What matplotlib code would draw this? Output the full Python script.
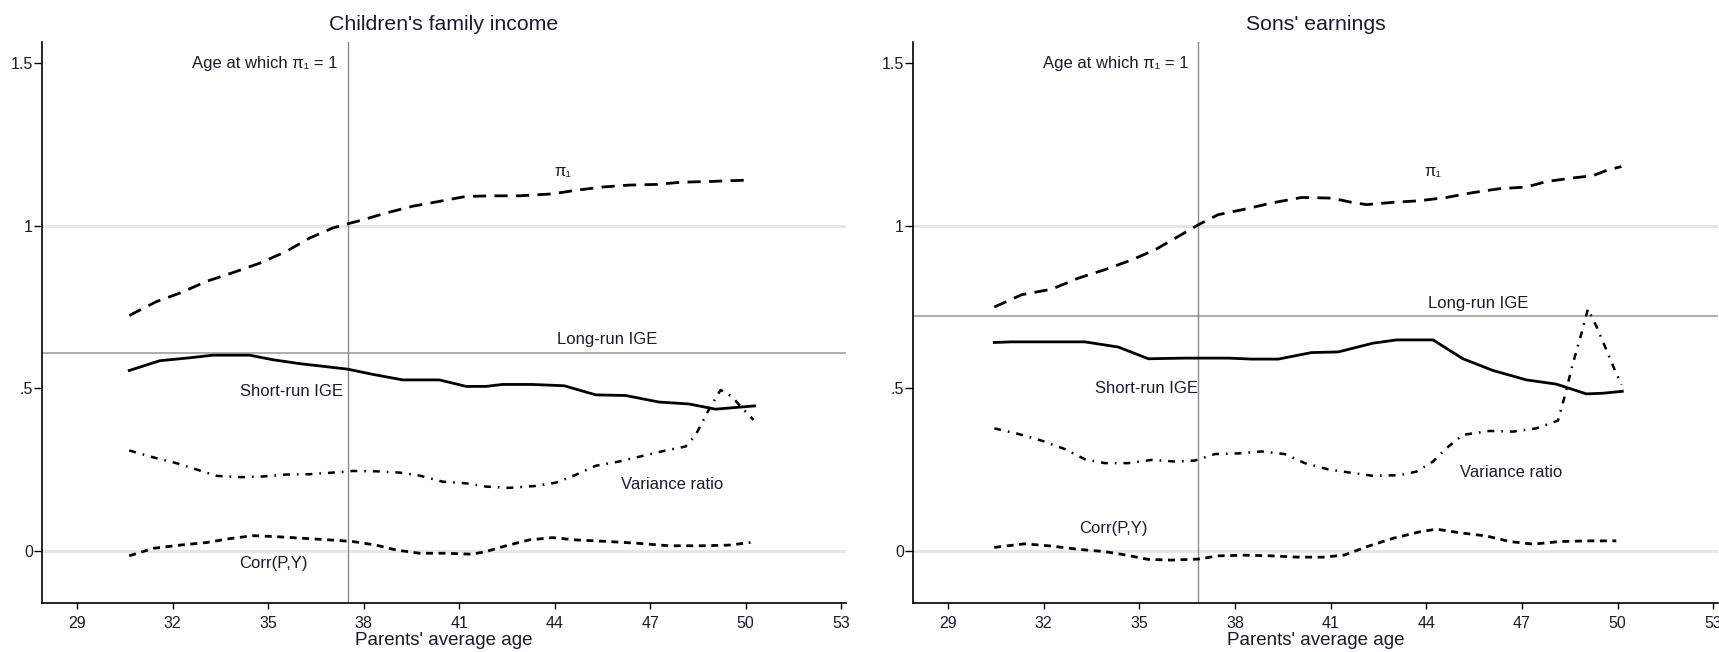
import matplotlib
matplotlib.use("Agg")
import matplotlib.pyplot as plt

plt.rcParams['font.family'] = ['Liberation Sans', 'DejaVu Sans']
plt.rcParams['lines.scale_dashes'] = False

# ---------------- data: Children's family income ----------------
L_pi_x = [30.64, 31.5, 32.23, 33.07, 33.9, 34.74, 35.57, 36.3, 37.03, 37.5, 37.97, 38.7, 39.54,
          40.38, 41.2, 42.0, 42.89, 43.93, 44.66, 45.5, 46.33, 47.17, 48.0, 48.84, 49.97, 50.2]
L_pi_y = [0.724, 0.767, 0.793, 0.829, 0.856, 0.885, 0.921, 0.962, 0.993, 1.006, 1.018, 1.039, 1.06,
          1.075, 1.09, 1.092, 1.092, 1.098, 1.109, 1.119, 1.125, 1.127, 1.134, 1.136, 1.14, 1.14]

L_sr_x = [30.64, 31.6, 32.44, 33.27, 34.42, 35.15, 35.99, 36.62, 37.5, 38.29, 39.23, 40.38, 41.22,
          41.84, 42.36, 43.3, 44.3, 45.29, 46.23, 47.27, 48.22, 49.05, 49.78, 50.28]
L_sr_y = [0.555, 0.585, 0.593, 0.602, 0.602, 0.588, 0.576, 0.569, 0.559, 0.543, 0.526, 0.526, 0.506,
          0.506, 0.512, 0.512, 0.508, 0.48, 0.478, 0.458, 0.452, 0.436, 0.442, 0.446]

L_vr_x = [30.64, 31.39, 32.12, 32.8, 33.38, 34.1, 34.84, 35.57, 36.3, 37.03, 37.66, 38.39, 39.13,
          39.75, 40.48, 41.22, 41.84, 42.57, 43.41, 44.04, 44.66, 45.29, 46.02, 46.75, 47.49, 48.11,
          48.43, 48.84, 49.21, 49.57, 49.84, 50.25]
L_vr_y = [0.309, 0.288, 0.27, 0.249, 0.231, 0.227, 0.229, 0.235, 0.236, 0.241, 0.246, 0.245, 0.241,
          0.232, 0.213, 0.208, 0.198, 0.194, 0.2, 0.21, 0.234, 0.262, 0.275, 0.292, 0.309, 0.321,
          0.357, 0.434, 0.495, 0.475, 0.444, 0.403]

L_cr_x = [30.64, 31.39, 32.23, 33.07, 33.8, 34.53, 35.26, 36.1, 36.93, 37.66, 38.39, 39.02, 39.75,
          40.59, 41.4, 41.84, 42.36, 43.2, 43.93, 44.66, 45.71, 46.55, 47.59, 48.63, 49.47, 50.15]
L_cr_y = [-0.015, 0.008, 0.018, 0.026, 0.038, 0.047, 0.044, 0.039, 0.034, 0.029, 0.018, 0.003, -0.007,
          -0.007, -0.01, -0.002, 0.013, 0.034, 0.041, 0.034, 0.029, 0.024, 0.016, 0.016, 0.018, 0.026]

L_vline = 37.5
L_longrun = 0.608

# ---------------- data: Sons' earnings ----------------
R_pi_x = [30.45, 31.31, 32.25, 33.09, 33.92, 34.76, 35.49, 36.22, 36.85, 37.47, 38.31, 39.15, 40.09,
          41.03, 41.66, 42.13, 42.96, 43.8, 44.63, 45.47, 46.3, 47.14, 47.77, 48.6, 49.23, 49.65, 50.12]
R_pi_y = [0.75, 0.788, 0.805, 0.839, 0.865, 0.895, 0.926, 0.967, 1.003, 1.034, 1.051, 1.07, 1.087,
          1.085, 1.072, 1.065, 1.072, 1.077, 1.087, 1.102, 1.114, 1.119, 1.136, 1.147, 1.154, 1.17, 1.182]

R_sr_x = [30.45, 31.0, 33.29, 34.34, 35.28, 36.43, 37.79, 38.52, 39.36, 40.4, 41.24, 42.33, 43.07,
          44.21, 45.15, 46.09, 47.14, 48.08, 49.02, 49.54, 50.15]
R_sr_y = [0.641, 0.643, 0.643, 0.627, 0.591, 0.593, 0.593, 0.59, 0.59, 0.61, 0.612, 0.639, 0.649,
          0.649, 0.591, 0.555, 0.526, 0.513, 0.483, 0.485, 0.491]

R_vr_x = [30.45, 31.2, 31.94, 32.67, 33.29, 33.92, 34.65, 35.39, 36.12, 36.74, 37.37, 38.1, 38.83,
          39.56, 40.19, 40.92, 41.6, 42.33, 43.17, 43.69, 44.21, 44.63, 45.15, 45.99, 46.72, 47.45,
          48.13, 48.34, 48.6, 48.87, 49.07, 49.34, 49.65, 49.91, 50.12]
R_vr_y = [0.377, 0.36, 0.339, 0.313, 0.282, 0.27, 0.27, 0.28, 0.275, 0.278, 0.298, 0.3, 0.306,
          0.298, 0.27, 0.251, 0.241, 0.231, 0.233, 0.244, 0.275, 0.316, 0.357, 0.369, 0.367, 0.377,
          0.401, 0.475, 0.577, 0.67, 0.744, 0.69, 0.618, 0.557, 0.511]

R_cr_x = [30.45, 31.41, 32.25, 33.09, 33.92, 34.55, 35.28, 36.01, 36.85, 37.47, 38.31, 39.15, 39.98,
          40.82, 41.45, 42.13, 42.96, 43.8, 44.32, 45.05, 45.89, 46.62, 47.35, 48.19, 49.02, 49.96]
R_cr_y = [0.011, 0.022, 0.015, 0.005, -0.002, -0.012, -0.026, -0.028, -0.025, -0.015, -0.013, -0.015,
          -0.019, -0.019, -0.012, 0.013, 0.039, 0.059, 0.067, 0.056, 0.046, 0.029, 0.021, 0.029, 0.031, 0.031]

R_vline = 36.85
R_longrun = 0.723

xticks = [29, 32, 35, 38, 41, 44, 47, 50, 53]
yticks = [0, 0.5, 1, 1.5]
ytick_labels = ["0", ".5", "1", "1.5"]

TXT = '#1a1a2a'

fig = plt.figure(figsize=(17.19, 6.52), dpi=100)
W, H = 1719, 652
axL = fig.add_axes([42 / W, (H - 603) / H, (846 - 42) / W, (603 - 42) / H])
axR = fig.add_axes([913 / W, (H - 603) / H, (1718 - 913) / W, (603 - 42) / H])

panels = [
    (axL, "Children's family income", L_pi_x, L_pi_y, L_sr_x, L_sr_y, L_vr_x, L_vr_y, L_cr_x, L_cr_y,
     L_vline, L_longrun,
     {'age': (37.18, 1.5), 'pi': (44.27, 1.167), 'lr': (45.66, 0.649), 'sr': (35.73, 0.49),
      'vr': (47.69, 0.205), 'cr': (35.18, -0.04)}),
    (axR, "Sons' earnings", R_pi_x, R_pi_y, R_sr_x, R_sr_y, R_vr_x, R_vr_y, R_cr_x, R_cr_y,
     R_vline, R_longrun,
     {'age': (36.54, 1.5), 'pi': (44.21, 1.167), 'lr': (45.63, 0.76), 'sr': (35.23, 0.5),
      'vr': (46.67, 0.242), 'cr': (34.2, 0.068)}),
]

for ax, title, pix, piy, srx, sry, vrx, vry, crx, cry, vl, lr, lab in panels:
    ax.set_xlim(27.9, 53.15)
    ax.set_ylim(-0.16, 1.565)
    # reference lines
    ax.axhline(1, color='#e6e6e6', lw=2.2, zorder=1)
    ax.axhline(0, color='#e6e6e6', lw=2.2, zorder=1)
    ax.axhline(lr, color='#a0a0a0', lw=1.2, zorder=1)
    ax.axvline(vl, color='#8c8c8c', lw=1.0, zorder=1)
    # series
    ax.plot(pix, piy, color='black', lw=2.0, dashes=(9.5, 6), zorder=3)
    ax.plot(srx, sry, color='black', lw=2.0, zorder=3)
    ax.plot(vrx, vry, color='black', lw=1.8, dashes=(5, 5, 1.2, 5), zorder=3)
    ax.plot(crx, cry, color='black', lw=2.0, dashes=(5, 4), zorder=3)
    # labels
    fs = 12
    ax.text(*lab['age'], "Age at which \u03c0\u2081 = 1", ha='right', va='center', fontsize=fs, color=TXT)
    ax.text(*lab['pi'], "\u03c0\u2081", ha='center', va='center', fontsize=fs, color=TXT)
    ax.text(*lab['lr'], "Long-run IGE", ha='center', va='center', fontsize=fs, color=TXT)
    ax.text(*lab['sr'], "Short-run IGE", ha='center', va='center', fontsize=fs, color=TXT)
    ax.text(*lab['vr'], "Variance ratio", ha='center', va='center', fontsize=fs, color=TXT)
    ax.text(*lab['cr'], "Corr(P,Y)", ha='center', va='center', fontsize=fs, color=TXT)
    # axes styling
    ax.set_xticks(xticks)
    ax.set_yticks(yticks)
    ax.set_yticklabels(ytick_labels)
    ax.tick_params(axis='x', direction='out', length=4, width=1, labelsize=11.5, colors='black',
                   labelcolor=TXT, pad=5)
    ax.tick_params(axis='y', direction='out', length=5.5, width=1, labelsize=11.5, colors='black',
                   labelcolor=TXT, pad=1)
    for s in ['top', 'right']:
        ax.spines[s].set_visible(False)
    for s in ['left', 'bottom']:
        ax.spines[s].set_linewidth(1.2)
        ax.spines[s].set_color('black')
    ax.set_xlabel("Parents' average age", fontsize=13.5, color=TXT, labelpad=1)
    ax.set_title(title, fontsize=15.3, color=TXT, pad=9)

fig.savefig("out.png", dpi=100, facecolor='white')
